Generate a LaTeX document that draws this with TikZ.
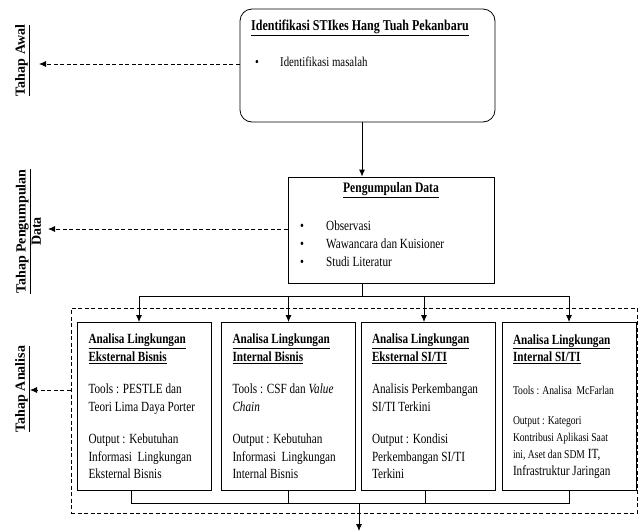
\documentclass[tikz,border=0pt]{standalone}
\usepackage{fontspec}
\setmainfont{Liberation Serif}[FakeStretch=0.8]
\newfontfamily\tahapfont{Liberation Serif}
\usetikzlibrary{arrows.meta}

\tikzset{
  kotak/.style={draw, line width=0.8pt, inner sep=0pt},
  panel/.style={draw, line width=0.8pt, anchor=north, text width=112pt, inner xsep=11pt,
    minimum height=168pt, align=flush left, font=\fontsize{14}{17.5}\selectfont},
  judul/.style={font=\bfseries\fontsize{14.5}{16}\selectfont, inner sep=0pt},
  daftar/.style={anchor=west, inner sep=0pt, font=\fontsize{14}{18}\selectfont},
  alur/.style={line width=0.8pt, -{Latex[length=7pt,width=6pt]}},
  garis/.style={line width=0.8pt},
  putus/.style={alur, dash pattern=on 4pt off 2.5pt},
  tahap/.style={rotate=90, inner sep=1pt, align=center,
    font=\tahapfont\bfseries\fontsize{14}{13}\selectfont}
}

\begin{document}
\begin{tikzpicture}[x=1pt,y=-1pt]
\useasboundingbox (0,0) rectangle (644,531);

\coordinate (cabang) at (362,296);
\coordinate (gabung) at (359,503);
\coordinate (akhir) at (359,531);
\coordinate (ujungawal) at (39,64);
\coordinate (ujungdata) at (48,229);
\coordinate (ujunganalisa) at (30,390);

% tahap awal
\node [kotak, rounded corners=12pt, minimum width=255pt, minimum height=113pt] (awal) at (367.5,65.5) {};
\node [judul, font=\bfseries\fontsize{15}{16}\selectfont] (awaljudul) at (360,28) {\underline{Identifikasi STIkes Hang Tuah Pekanbaru}};
\node [daftar, font=\fontsize{13.5}{18}\selectfont] (awalisi) at (255,63) {\begin{tabular}{@{}p{25pt}@{}l@{}}\textbullet & Identifikasi masalah\end{tabular}};

% pengumpulan data
\node [kotak, minimum width=206pt, minimum height=106pt] (data) at (391,230) {};
\node [judul] (datajudul) at (391,190) {\underline{Pengumpulan Data}};
\node [daftar] (dataisi) at (300,245) {\begin{tabular}{@{}p{26pt}@{}l@{}}
\textbullet & Observasi\\
\textbullet & Wawancara dan Kuisioner\\
\textbullet & Studi Literatur
\end{tabular}};

% analisa
\node [draw, line width=0.8pt, dash pattern=on 4pt off 2.5pt, minimum width=566pt, minimum height=205pt] (bingkai) at (354,410.5) {};

\node [panel] (ekbis) at (144.5,322) {\textbf{\underline{Analisa Lingkungan}}\\
\textbf{\underline{Eksternal Bisnis}}\\[15pt]
Tools : PESTLE dan\\
Teori Lima Daya Porter\\[15pt]
Output : Kebutuhan\\
Informasi\ \ Lingkungan\\
Eksternal Bisnis};

\node [panel] (inbis) at (288.5,322) {\textbf{\underline{Analisa Lingkungan}}\\
\textbf{\underline{Internal Bisnis}}\\[15pt]
Tools : CSF dan \textit{Value}\\
\textit{Chain}\\[15pt]
Output : Kebutuhan\\
Informasi\ \ Lingkungan\\
Internal Bisnis};

\node [panel] (eksiti) at (428,322) {\textbf{\underline{Analisa Lingkungan}}\\
\textbf{\underline{Eksternal SI/TI}}\\[15pt]
Analisis Perkembangan\\
SI/TI Terkini\\[15pt]
Output : Kondisi\\
Perkembangan SI/TI\\
Terkini};

\node [panel] (insiti) at (569,322) {\textbf{\underline{Analisa Lingkungan}}\\
\textbf{\underline{Internal SI/TI}}\\[15.5pt]
{\fontsize{12}{17}\selectfont Tools : Analisa\ \ McFarlan}\\[12.5pt]
{\fontsize{12}{17}\selectfont Output : Kategori}\\[-0.5pt]
{\fontsize{12}{17}\selectfont Kontribusi Aplikasi Saat}\\[-0.5pt]
{\fontsize{12}{17}\selectfont ini, Aset dan SDM} IT,\\[-0.5pt]
Infrastruktur Jaringan};

% label tahap
\node [tahap] (tahapawal) at (22.5,60.5) {\underline{Tahap Awal}};
\node [tahap] (tahapdata) at (28.5,231.5) {\underline{Tahap Pengumpulan}\\ Data};
\node [tahap] (tahapanalisa) at (22.5,389) {\underline{Tahap Analisa}};

% alur
\draw [alur] (awal.south -| cabang) -- (data.north -| cabang);
\draw [garis] (data.south -| cabang) -- (cabang);
\draw [garis] ([xshift=-5.5pt]ekbis.north |- cabang) -- (insiti.north |- cabang);
\draw [alur] ([xshift=-5.5pt]ekbis.north |- cabang) -- ([xshift=-5.5pt]ekbis.north);
\draw [alur] (inbis.north |- cabang) -- (inbis.north);
\draw [alur] ([xshift=-4pt]eksiti.north |- cabang) -- ([xshift=-4pt]eksiti.north);
\draw [alur] (insiti.north |- cabang) -- (insiti.north);

\draw [garis] ([xshift=-13.5pt]ekbis.south) |- (insiti.south |- gabung) -- (insiti.south);
\draw [garis] (inbis.south) -- (inbis.south |- gabung);
\draw [garis] ([xshift=-3pt]eksiti.south) -- ([xshift=-3pt]eksiti.south |- gabung);
\draw [alur] (gabung) -- (akhir);

\draw [putus] (awal.west |- ujungawal) -- (ujungawal);
\draw [putus] (data.west |- ujungdata) -- (ujungdata);
\draw [putus] (bingkai.west |- ujunganalisa) -- (ujunganalisa);
\end{tikzpicture}
\end{document}
